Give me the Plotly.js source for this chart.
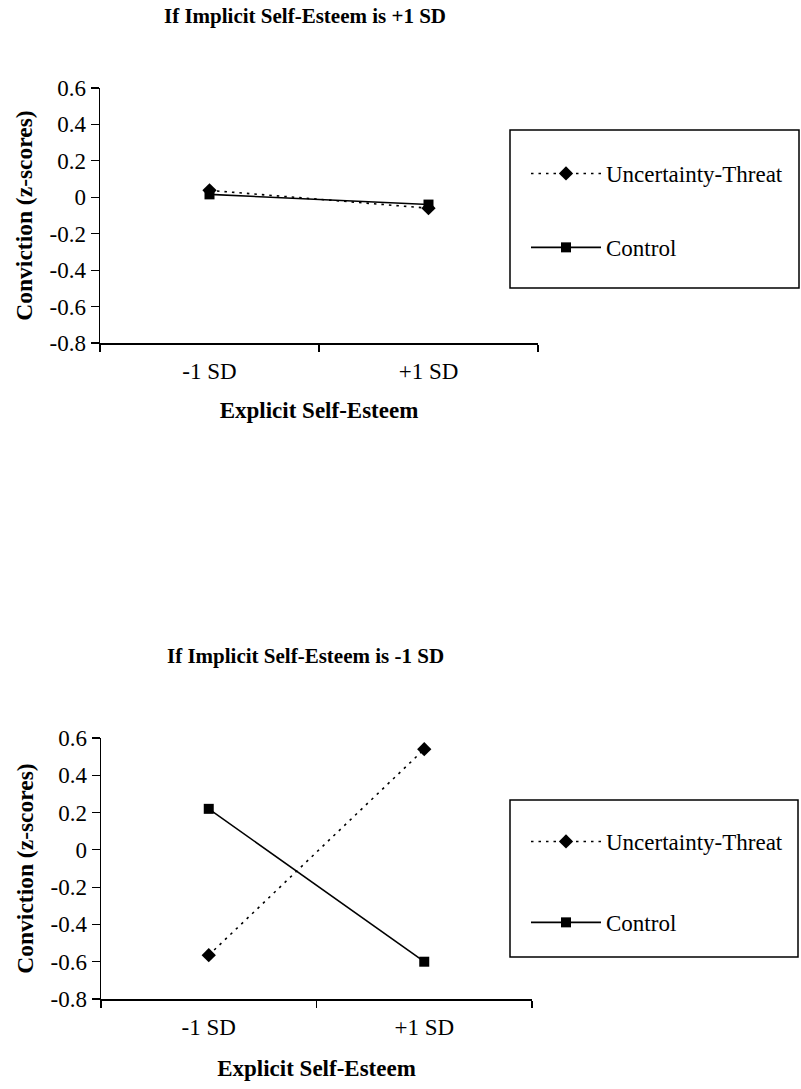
<!DOCTYPE html>
<html>
<head>
<meta charset="utf-8">
<script src="https://cdn.plot.ly/plotly-3.0.1.min.js"></script>
<style>html,body{margin:0;padding:0;background:#fff;}#chart{width:801px;height:1089px;}</style>
</head>
<body>
<div id="chart"></div>
<script>
// Data
const categories = ["-1 SD", "+1 SD"];
const seriesNames = ["Uncertainty-Threat", "Control"];
const topThreat = [0.038, -0.06];
const topControl = [0.016, -0.04];
const bottomThreat = [-0.565, 0.54];
const bottomControl = [0.22, -0.60];
const panelTitles = ["If Implicit Self-Esteem is +1 SD", "If Implicit Self-Esteem is -1 SD"];
const xTitle = "Explicit Self-Esteem";
const yTitle = "Conviction (z-scores)";
const yTickVals = [-0.8, -0.6, -0.4, -0.2, 0, 0.2, 0.4, 0.6];
const yTickText = ["-0.8", "-0.6", "-0.4", "-0.2", "0", "0.2", "0.4", "0.6"];

const FONT = "Liberation Serif, Times New Roman, serif";
const W = 801, H = 1089;
const px = v => v / W;
const py = v => 1 - v / H;

function threatTrace(y, xa, ya, leg) {
  return {x: categories, y: y, xaxis: xa, yaxis: ya, name: seriesNames[0], legend: leg,
    legendgroup: "a", mode: "lines+markers", type: "scatter",
    line: {color: "#000", width: 1.6, dash: "2.5px,5px"},
    marker: {symbol: "diamond", size: 11, color: "#000"}};
}
function controlTrace(y, xa, ya, leg) {
  return {x: categories, y: y, xaxis: xa, yaxis: ya, name: seriesNames[1], legend: leg,
    legendgroup: "b", mode: "lines+markers", type: "scatter",
    line: {color: "#000", width: 1.6},
    marker: {symbol: "square", size: 10, color: "#000"}};
}

const data = [
  threatTrace(topThreat, "x", "y", "legend"),
  controlTrace(topControl, "x", "y", "legend"),
  threatTrace(bottomThreat, "x2", "y2", "legend2"),
  controlTrace(bottomControl, "x2", "y2", "legend2")
];

function xaxisDef(domain, anchor, standoff) {
  return {domain: domain, anchor: anchor, type: "category", range: [-0.5, 1.5],
    showline: true, linecolor: "#000", linewidth: 1.5, ticks: "outside", tickson: "boundaries",
    ticklen: 7, tickwidth: 1.5, tickcolor: "#000", showgrid: false, zeroline: false,
    ticklabelstandoff: 7,
    tickfont: {family: FONT, size: 23, color: "#000"},
    title: {text: "<b>" + xTitle + "</b>", font: {family: FONT, size: 23, color: "#000"}, standoff: standoff},
    fixedrange: true};
}
function yaxisDef(domain, anchor) {
  return {domain: domain, anchor: anchor, range: [-0.8, 0.6],
    tickmode: "array", tickvals: yTickVals, ticktext: yTickText,
    showline: true, linecolor: "#000", linewidth: 1.5, ticks: "outside",
    ticklen: 8, tickwidth: 1.2, tickcolor: "#000", showgrid: false, zeroline: false,
    tickfont: {family: FONT, size: 23, color: "#000"},
    title: {text: "<b>" + yTitle + "</b>", font: {family: FONT, size: 23.5, color: "#000"}, standoff: 10},
    fixedrange: true};
}

function legendDef(yTop, gap) {
  return {x: px(526), y: py(yTop), xanchor: "left", yanchor: "top", bgcolor: "rgba(0,0,0,0)",
    borderwidth: 0, font: {family: FONT, size: 23, color: "#000"},
    traceorder: "grouped", tracegroupgap: gap, itemwidth: 70};
}

const layout = {
  width: W, height: H,
  margin: {l: 0, r: 0, t: 0, b: 0},
  paper_bgcolor: "#fff", plot_bgcolor: "#fff",
  showlegend: true,
  xaxis: xaxisDef([px(100), px(538)], "y", 19),
  yaxis: yaxisDef([py(343), py(88)], "x"),
  xaxis2: xaxisDef([px(101), px(532)], "y2", 21),
  yaxis2: yaxisDef([py(999), py(738)], "x2"),
  legend: legendDef(152, 41),
  legend2: legendDef(820, 48),
  shapes: [
    {type: "rect", xref: "paper", yref: "paper", x0: px(510), x1: px(799), y0: py(288), y1: py(130),
      line: {color: "#000", width: 1.5}},
    {type: "rect", xref: "paper", yref: "paper", x0: px(510), x1: px(798), y0: py(957), y1: py(800),
      line: {color: "#000", width: 1.5}}
  ],
  annotations: [
    {text: "<b>" + panelTitles[0] + "</b>", xref: "paper", yref: "paper", x: px(305), y: py(16),
      xanchor: "center", yanchor: "middle",
      showarrow: false, font: {family: FONT, size: 21, color: "#000"}},
    {text: "<b>" + panelTitles[1] + "</b>", xref: "paper", yref: "paper", x: px(305), y: py(656),
      xanchor: "center", yanchor: "middle",
      showarrow: false, font: {family: FONT, size: 21, color: "#000"}}
  ]
};

Plotly.newPlot("chart", data, layout, {staticPlot: true, displayModeBar: false});
</script>
</body>
</html>
